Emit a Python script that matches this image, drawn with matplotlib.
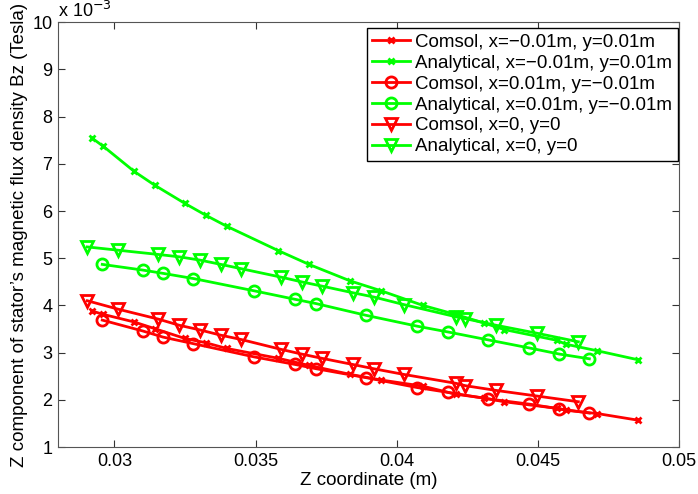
import matplotlib
matplotlib.use("Agg")
import matplotlib.pyplot as plt

plt.rcParams['font.family'] = ['Liberation Sans', 'DejaVu Sans']

# z positions (m) and Bz values (units of 1e-3 Tesla)
z_cross = [0.02922, 0.02961, 0.03070, 0.03142, 0.03250, 0.03324, 0.03397,
           0.03581, 0.03689, 0.03835, 0.03945, 0.04093, 0.04208, 0.04308,
           0.04380, 0.04568, 0.04598, 0.04710, 0.04854]
comsol_cross = [3.88, 3.81, 3.65, 3.51, 3.30, 3.21, 3.09,
                2.88, 2.73, 2.54, 2.42, 2.29, 2.12, 2.04,
                1.96, 1.82, 1.78, 1.71, 1.57]
analytic_cross = [7.54, 7.37, 6.84, 6.55, 6.16, 5.91, 5.68,
                  5.16, 4.87, 4.52, 4.31, 4.00, 3.81, 3.63,
                  3.49, 3.26, 3.18, 3.04, 2.85]

z_circle = [0.02957, 0.03100, 0.03172, 0.03280, 0.03495, 0.03640, 0.03714,
            0.03892, 0.04073, 0.04180, 0.04324, 0.04469, 0.04576, 0.04682]
comsol_circle = [3.69, 3.46, 3.33, 3.19, 2.91, 2.75, 2.66,
                 2.47, 2.26, 2.16, 2.02, 1.91, 1.81, 1.72]
analytic_circle = [4.87, 4.75, 4.68, 4.57, 4.31, 4.13, 4.04,
                   3.79, 3.56, 3.44, 3.27, 3.10, 2.97, 2.87]

z_tri = [0.02904, 0.03014, 0.03156, 0.03230, 0.03304, 0.03377, 0.03448,
         0.03590, 0.03663, 0.03735, 0.03844, 0.03918, 0.04024, 0.04210,
         0.04243, 0.04352, 0.04498, 0.04643]
comsol_tri = [4.10, 3.92, 3.71, 3.58, 3.48, 3.37, 3.28,
              3.07, 2.97, 2.88, 2.75, 2.66, 2.54, 2.35,
              2.30, 2.20, 2.08, 1.96]
analytic_tri = [5.24, 5.17, 5.08, 5.03, 4.96, 4.87, 4.78,
                4.60, 4.50, 4.41, 4.27, 4.18, 4.02, 3.76,
                3.72, 3.58, 3.41, 3.23]

red = (1, 0, 0)
green = (0, 1, 0)

fig = plt.figure(figsize=(6.98, 4.94), dpi=100)
ax = fig.add_axes([0.083, 0.095, 0.890, 0.860])

ax.plot(z_cross, comsol_cross, color=red, lw=2, marker='x', ms=5, mew=2,
        label='Comsol, x=\u22120.01m, y=0.01m')
ax.plot(z_cross, analytic_cross, color=green, lw=2, marker='x', ms=5, mew=2,
        label='Analytical, x=\u22120.01m, y=0.01m')
ax.plot(z_circle, comsol_circle, color=red, lw=2, marker='o', ms=8, mew=2,
        mfc='none', label='Comsol, x=0.01m, y=\u22120.01m')
ax.plot(z_circle, analytic_circle, color=green, lw=2, marker='o', ms=8, mew=2,
        mfc='none', label='Analytical, x=0.01m, y=\u22120.01m')
ax.plot(z_tri, comsol_tri, color=red, lw=2, marker='v', ms=8.5, mew=2,
        mfc='none', label='Comsol, x=0, y=0')
ax.plot(z_tri, analytic_tri, color=green, lw=2, marker='v', ms=8.5, mew=2,
        mfc='none', label='Analytical, x=0, y=0')

ax.set_xlim(0.028, 0.05)
ax.set_ylim(1, 10)
ax.set_xticks([0.03, 0.035, 0.04, 0.045, 0.05])
ax.set_xticklabels(['0.03', '0.035', '0.04', '0.045', '0.05'])
ax.set_yticks(range(1, 11))
ax.tick_params(direction='in', top=True, right=True, labelsize=13, length=5,
               colors='#333333', labelcolor='black', pad=4)
for s in ax.spines.values():
    s.set_color('#555555')

ax.text(0.0, 1.003, 'x 10$^{-3}$', transform=ax.transAxes, fontsize=13, va='bottom', ha='left')

ax.set_xlabel('Z coordinate (m)', fontsize=13.5, labelpad=2)
ax.set_ylabel('Z component of stator\u2019s magnetic flux density Bz (Tesla)', fontsize=13.5, labelpad=3)

leg = ax.legend(loc='upper right', bbox_to_anchor=(0.998, 0.986), fontsize=13.5,
                fancybox=False, framealpha=1, edgecolor='black',
                handlelength=2.0, handletextpad=0.3, labelspacing=0.2,
                borderpad=0.3, borderaxespad=0)
leg.get_frame().set_linewidth(1.0)

fig.savefig('out.png', dpi=100)
